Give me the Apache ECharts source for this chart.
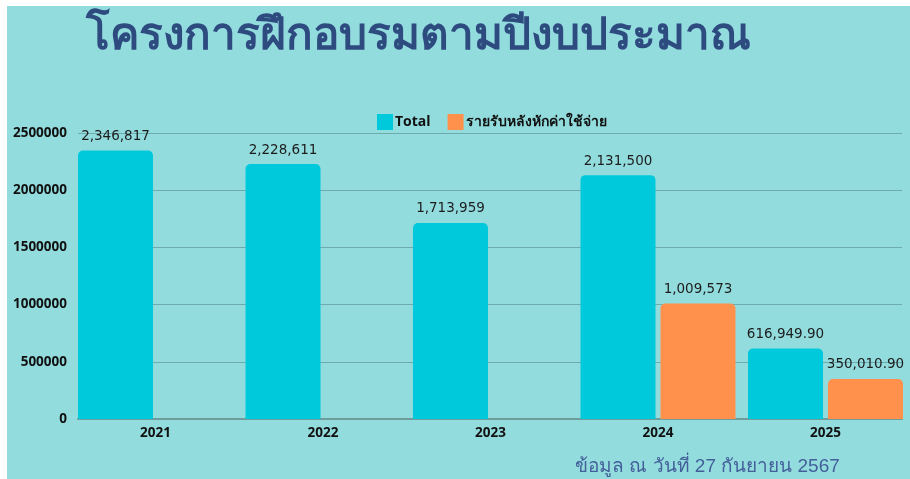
<!DOCTYPE html>
<html>
<head>
<meta charset="utf-8">
<script src="https://cdn.jsdelivr.net/npm/echarts@6/dist/echarts.min.js"></script>
<style>
html,body{margin:0;padding:0;background:#fff;}
#chart{width:910px;height:479px;}
</style>
</head>
<body>
<div id="chart"></div>
<script>
var categories = ['2021', '2022', '2023', '2024', '2025'];
var totalValues = [2346817, 2228611, 1713959, 2131500, 616949.90];
var netValues = [null, null, null, 1009573, 350010.90];
var seriesNames = ['Total', 'รายรับหลังหักค่าใช้จ่าย'];
var yTicks = [0, 500000, 1000000, 1500000, 2000000, 2500000];
var titleText = 'โครงการฝึกอบรมตามปีงบประมาณ';
var footerText = 'ข้อมูล ณ วันที่ 27 กันยายน 2567';

function fmt(v) {
  if (v == null) return '';
  var isInt = Math.abs(v - Math.round(v)) < 1e-9;
  var s = isInt ? String(Math.round(v)) : v.toFixed(2);
  var parts = s.split('.');
  parts[0] = parts[0].replace(/\B(?=(\d{3})+(?!\d))/g, ',');
  return parts.join('.');
}

var chart = echarts.init(document.getElementById('chart'), null, {renderer: 'canvas'});
var labelStyle = {
  show: true, position: 'top', distance: 7,
  fontFamily: 'DejaVu Sans', fontSize: 13.5, color: '#1c1c1c',
  formatter: function (p) { return fmt(p.value); }
};
var option = {
  backgroundColor: '#ffffff',
  animation: false,
  graphic: [{
    type: 'rect', z: -100, silent: true,
    shape: {x: 7, y: 6, width: 903, height: 473},
    style: {fill: '#93DCDE'}
  }],
  title: [{
    text: titleText, left: 81, top: 10,
    textStyle: {fontSize: 44, fontWeight: 'bold', color: '#2E4B80', fontFamily: 'sans-serif'}
  }, {
    text: footerText, left: 570, top: 452,
    textStyle: {fontSize: 19, fontWeight: 'normal', color: '#44609A', fontFamily: 'sans-serif'}
  }],
  legend: {
    data: seriesNames, left: 372, top: 109,
    icon: 'rect', itemWidth: 16, itemHeight: 16, itemGap: 17,
    textStyle: {fontSize: 14, fontWeight: 'bold', color: '#111', fontFamily: 'Open Sans, sans-serif', padding: [0, 0, 0, -3]}
  },
  grid: [
    {left: 78, right: 8, top: 133, bottom: 60},
    {left: 71.75, width: 837.5, top: 133, bottom: 60}
  ],
  xAxis: [{
    gridIndex: 0, type: 'category', data: categories,
    axisLabel: {show: false}, axisTick: {show: false},
    axisLine: {show: true, lineStyle: {color: '#6F9C9D', width: 2}}
  }, {
    gridIndex: 1, type: 'category', data: categories,
    axisTick: {show: false}, axisLine: {show: false},
    axisLabel: {margin: 7, fontSize: 13.5, fontWeight: 'bold', color: '#111', fontFamily: 'Open Sans, sans-serif'}
  }],
  yAxis: [{
    gridIndex: 0, type: 'value', min: yTicks[0], max: yTicks[yTicks.length - 1], interval: yTicks[1] - yTicks[0],
    axisLine: {show: false}, axisTick: {show: false},
    axisLabel: {margin: 11, fontSize: 13.5, fontWeight: 'bold', color: '#111', fontFamily: 'Open Sans, sans-serif',
      formatter: function (v) { return String(v); }},
    splitLine: {show: true, lineStyle: {color: '#6FAAAC', width: 1}}
  }, {
    gridIndex: 1, type: 'value', min: yTicks[0], max: yTicks[yTicks.length - 1], interval: yTicks[1] - yTicks[0],
    show: false, splitLine: {show: false}
  }],
  series: [{
    name: seriesNames[0], type: 'bar', xAxisIndex: 1, yAxisIndex: 1,
    data: totalValues, barWidth: 75, barGap: '6.67%',
    itemStyle: {color: '#00C9DB', borderRadius: [5, 5, 0, 0]},
    label: labelStyle, z: 3
  }, {
    name: seriesNames[1], type: 'bar', xAxisIndex: 1, yAxisIndex: 1,
    data: netValues, barWidth: 75,
    itemStyle: {color: '#FF914D', borderRadius: [5, 5, 0, 0]},
    label: labelStyle, z: 3
  }]
};
chart.setOption(option);
</script>
</body>
</html>
